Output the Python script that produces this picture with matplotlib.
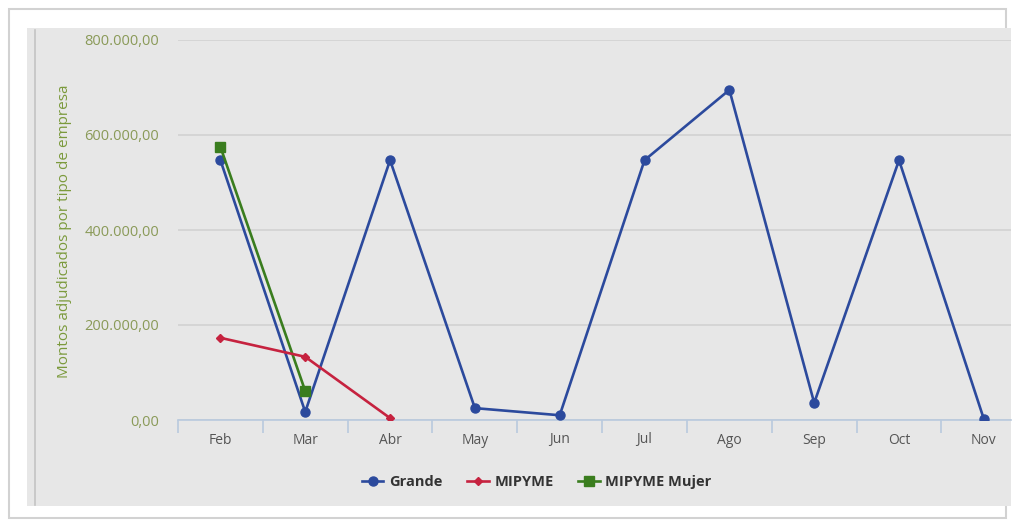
import matplotlib
matplotlib.use("Agg")
import matplotlib.pyplot as plt
from matplotlib.patches import Rectangle
from matplotlib.lines import Line2D
import numpy as np

months = ["Feb", "Mar", "Abr", "May", "Jun", "Jul", "Ago", "Sep", "Oct", "Nov"]
grande = [547000, 17000, 547000, 25000, 10000, 547000, 695000, 36000, 547000, 2000]
mipyme = [173000, 133000, 4000]
mipyme_mujer = [575000, 61000]
yticks = [0, 200000, 400000, 600000, 800000]
ytick_labels = ["0,00", "200.000,00", "400.000,00", "600.000,00", "800.000,00"]

W, H = 1017, 522
fig = plt.figure(figsize=(W / 100, H / 100), dpi=100)
fig.patch.set_facecolor("white")

def px(x0, y0, x1, y1):
    return (x0 / W, 1 - y1 / H, (x1 - x0) / W, (y1 - y0) / H)

# outer card
fx, fy, fw, fh = px(9, 9, 1006, 518)
fig.patches.append(Rectangle((fx, fy), fw, fh, transform=fig.transFigure,
                             facecolor="white", edgecolor="#d2d2d2", lw=1.5, zorder=-2))
# gray panel
gx, gy, gw, gh = px(27, 28, 1011, 506)
fig.patches.append(Rectangle((gx, gy), gw, gh, transform=fig.transFigure,
                             facecolor="#e7e7e7", edgecolor="none", zorder=-1))
fig.lines.append(Line2D([35 / W, 35 / W], [1 - 30 / H, 1 - 505 / H], transform=fig.transFigure,
                        color="#c4c4c4", lw=1.2, zorder=-0.5))

ax = fig.add_axes(px(178, 40, 1011, 420))
ax.set_zorder(2)
ax.set_facecolor("none")
x = np.arange(len(months))
blue, red, green = "#2c4a9d", "#c6223f", "#3a7d1e"
ax.plot(x, grande, color=blue, lw=1.9, marker="o", ms=6.5, label="Grande", zorder=3)
ax.plot(x[:len(mipyme)], mipyme, color=red, lw=1.9, marker="D", ms=4.5, label="MIPYME", zorder=4)
ax.plot(x[:len(mipyme_mujer)], mipyme_mujer, color=green, lw=1.9, marker="s", ms=6.5,
        label="MIPYME Mujer", zorder=3)

ax.set_xlim(-0.5, 9.32)
ax.set_ylim(0, 800000)
ax.set_yticks(yticks)
ax.set_yticklabels(ytick_labels, fontfamily="Open Sans", fontsize=10.5, color="#8a9a58")
ax.yaxis.grid(True, color="#d2d2d2", lw=1.2)
ax.set_axisbelow(True)
ax.tick_params(axis="y", length=0, pad=13.7)
ax.set_xticks(x)
ax.set_xticklabels(months, fontfamily="Open Sans", fontsize=10, color="#555555")
ax.set_xticks(np.arange(-0.5, 9.5, 1), minor=True)
ax.tick_params(axis="x", which="major", length=0, pad=9)
ax.tick_params(axis="x", which="minor", length=9, color="#b9cade", width=1.2)
for s in ["top", "right", "left"]:
    ax.spines[s].set_visible(False)
ax.spines["bottom"].set_color("#b9cade")
ax.spines["bottom"].set_linewidth(1.2)
ax.spines["bottom"].set_zorder(2)

fig.text(65 / W, 1 - 231 / H, "Montos adjudicados por tipo de empresa", rotation=90,
         ha="center", va="center", fontfamily="Open Sans", fontsize=11, color="#7b9a3c")

leg = fig.legend(loc="center", bbox_to_anchor=(537 / W, 1 - 482 / H), ncol=3, frameon=False,
                 prop={"family": "Open Sans", "weight": "bold", "size": 10.5},
                 handlelength=1.45, columnspacing=1.7, handletextpad=0.4)
for t in leg.get_texts():
    t.set_color("#333333")

fig.savefig("out.png", dpi=100)
